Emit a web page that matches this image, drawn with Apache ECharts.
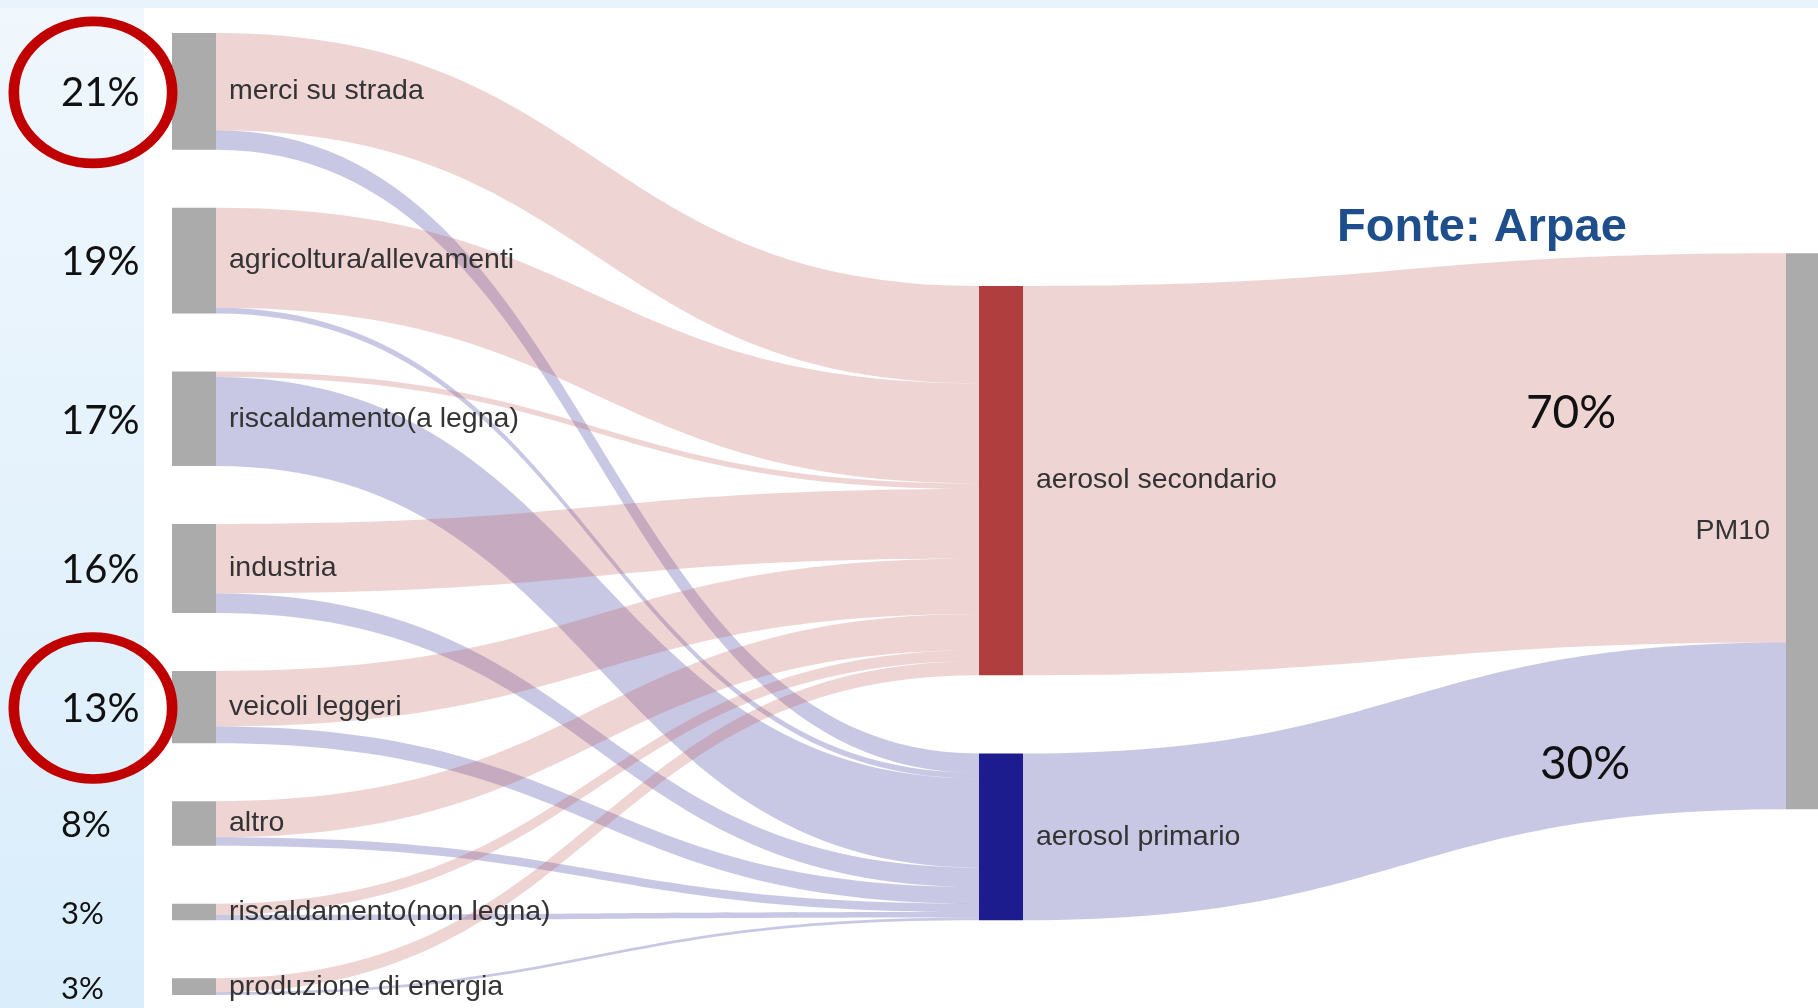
<!DOCTYPE html>
<html>
<head>
<meta charset="utf-8">
<title>PM10 - fonti</title>
<script src="https://cdn.jsdelivr.net/npm/echarts@6/dist/echarts.min.js"></script>
<style>
  html, body { margin: 0; padding: 0; background: #fff; }
  #chart { width: 1818px; height: 1008px; }
</style>
</head>
<body>
<div id="chart"></div>
<script>
// sources of PM10 (percent of total), split by the kind of aerosol they produce
const sources = [
  'merci su strada',
  'agricoltura/allevamenti',
  'riscaldamento(a legna)',
  'industria',
  'veicoli leggeri',
  'altro',
  'riscaldamento(non legna)',
  'produzione di energia'
]
const toSecondario = [17.5, 18, 1, 12.5, 10, 6.5, 2, 2.5]
const toPrimario = [3.5, 1, 16, 3.5, 3, 1.5, 1, 0.5]
const aerosols = ['aerosol secondario', 'aerosol primario']
const target = 'PM10'
const circled = ['merci su strada', 'veicoli leggeri']
const sourceNote = 'Fonte: Arpae'

// vertical placement of the right-hand nodes (fraction of layout height)
const nodeLocalY = { 'aerosol secondario': 0.263, 'aerosol primario': 0.749, 'PM10': 0.229 }

const grey = '#ababab'
const nodeColor = { 'aerosol secondario': '#b03e3e', 'aerosol primario': '#1c1c8f' }
const linkColor = { 'aerosol secondario': 'rgba(192,90,90,0.26)', 'aerosol primario': 'rgba(74,74,168,0.3)' }
const labelFont = '"Liberation Sans", Arial, sans-serif'
const pctFont = 'Lato, "Open Sans", sans-serif'

const chart = echarts.init(document.getElementById('chart'))

const nodes = sources.map(name => ({ name, itemStyle: { color: grey } }))
aerosols.forEach(name => {
  nodes.push({ name, localY: nodeLocalY[name], itemStyle: { color: nodeColor[name] } })
})
nodes.push({
  name: target,
  localY: nodeLocalY[target],
  itemStyle: { color: grey },
  label: { position: 'left', distance: 16 }
})

const links = []
sources.forEach((s, i) => {
  links.push({ source: s, target: aerosols[0], value: toSecondario[i], lineStyle: { color: linkColor[aerosols[0]] } })
  links.push({ source: s, target: aerosols[1], value: toPrimario[i], lineStyle: { color: linkColor[aerosols[1]] } })
})
const totSecondario = toSecondario.reduce((a, b) => a + b, 0)
const totPrimario = toPrimario.reduce((a, b) => a + b, 0)
links.push({ source: aerosols[0], target: target, value: totSecondario, lineStyle: { color: linkColor[aerosols[0]] } })
links.push({ source: aerosols[1], target: target, value: totPrimario, lineStyle: { color: linkColor[aerosols[1]] } })

chart.setOption({
  animation: false,
  backgroundColor: '#fff',
  series: [{
    type: 'sankey',
    left: 172,
    right: -12,
    top: 33,
    bottom: 13,
    nodeWidth: 44,
    nodeGap: 58,
    layoutIterations: 0,
    draggable: false,
    emphasis: { disabled: true },
    label: {
      color: '#333',
      fontFamily: labelFont,
      fontSize: 28.5,
      distance: 13
    },
    lineStyle: { curveness: 0.5, opacity: 1 },
    data: nodes,
    links: links
  }]
})

// overlay: left panel, percentages, red circles, 70% / 30%, source note
const series = chart.getModel().getSeriesByIndex(0)
const data = series.getData()
const box = series.layoutInfo
const graphics = [
  {
    type: 'rect', z: -10, silent: true,
    shape: { x: 0, y: 0, width: 144, height: 1008 },
    style: { fill: new echarts.graphic.LinearGradient(0, 0, 0, 1, [
      { offset: 0, color: '#f0f7fd' }, { offset: 1, color: '#d9edfb' }
    ]) }
  },
  {
    type: 'rect', z: -10, silent: true,
    shape: { x: 0, y: 0, width: 1818, height: 8 },
    style: { fill: '#e9f3fb' }
  }
]

sources.forEach((name, i) => {
  const l = data.getItemLayout(data.indexOfName(name))
  const value = toSecondario[i] + toPrimario[i]
  const cy = box.y + l.y + l.dy / 2
  const size = value >= 10 ? 40 : value >= 5 ? 36 : 31
  graphics.push({
    type: 'text', z: 20, silent: true,
    x: 61, y: cy + 2,
    style: { text: value + '%', fill: '#111', font: size + 'px ' + pctFont, textVerticalAlign: 'middle' }
  })
  if (circled.includes(name)) {
    graphics.push({
      type: 'circle', z: 21, silent: true,
      x: 93, y: cy + 1, scaleX: 1.07, scaleY: 0.96,
      shape: { cx: 0, cy: 0, r: 74 },
      style: { fill: 'none', stroke: '#c00000', lineWidth: 10 }
    })
  }
})

const pm = data.getItemLayout(data.indexOfName(target))
const pmLeft = box.x + pm.x
const pmTop = box.y + nodeLocalY[target] * box.height
const ky = pm.dy / (totSecondario + totPrimario)
const shares = [
  { text: Math.round(totSecondario) + '%', x: pmLeft - 215, y: pmTop + totSecondario * ky * 0.41 },
  { text: Math.round(totPrimario) + '%', x: pmLeft - 201, y: pmTop + totSecondario * ky + totPrimario * ky * 0.73 }
]
shares.forEach(s => {
  graphics.push({
    type: 'text', z: 20, silent: true,
    x: s.x, y: s.y,
    style: { text: s.text, fill: '#111', font: '46px ' + pctFont, textAlign: 'center', textVerticalAlign: 'middle' }
  })
})

graphics.push({
  type: 'text', z: 20, silent: true,
  x: 1337, y: 228,
  style: { text: sourceNote, fill: '#1f4e8c', font: 'bold 47px "Liberation Sans", Arial, sans-serif', textVerticalAlign: 'middle' }
})

chart.setOption({ graphic: graphics })
</script>
</body>
</html>
